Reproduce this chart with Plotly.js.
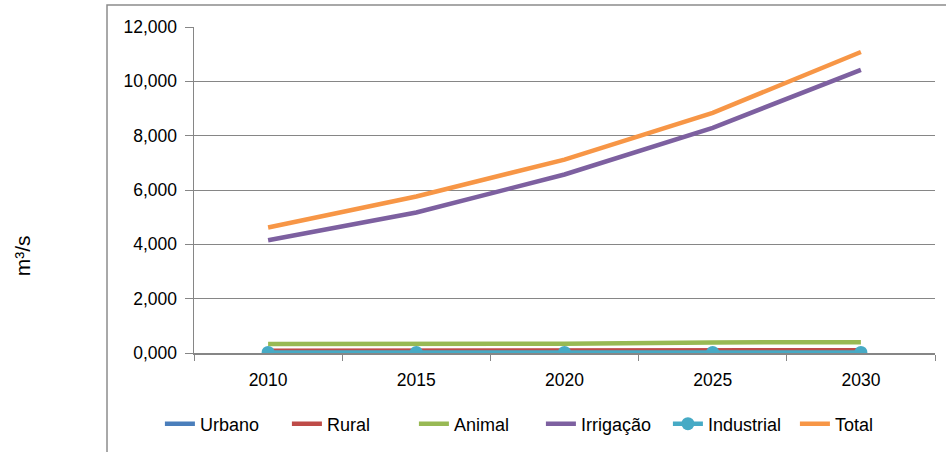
<!DOCTYPE html>
<html>
<head>
<meta charset="utf-8">
<script src="https://cdn.plot.ly/plotly-3.0.1.min.js"></script>
<style>html,body{margin:0;padding:0;background:#fff;}#chart{width:946px;height:452px;}</style>
</head>
<body>
<div id="chart"></div>
<script>
const years = ['2010', '2015', '2020', '2025', '2030'];
const urbano = [0.04, 0.04, 0.05, 0.05, 0.05];
const rural = [0.08, 0.09, 0.09, 0.10, 0.10];
const animal = [0.33, 0.33, 0.34, 0.39, 0.40];
const irrigacao = [4.15, 5.17, 6.57, 8.29, 10.42];
const industrial = [0.02, 0.02, 0.02, 0.02, 0.02];
const total = [4.62, 5.76, 7.12, 8.84, 11.08];
const yTitle = 'm³/s';

const names = ['Urbano', 'Rural', 'Animal', 'Irrigação', 'Industrial', 'Total'];
const series = [urbano, rural, animal, irrigacao, industrial, total];
const colors = ['#4A7EBB', '#BE4B48', '#98B954', '#7D60A0', '#46AAC5', '#F79646'];

const font = 'Liberation Sans, Arial, sans-serif';
const traces = series.map((s, i) => ({
  x: years,
  y: s,
  name: names[i],
  type: 'scatter',
  mode: names[i] === 'Industrial' ? 'lines+markers' : 'lines',
  line: {color: colors[i], width: 4.5},
  marker: {color: colors[i], size: 13, symbol: 'circle'},
  cliponaxis: true
}));

const layout = {
  width: 946,
  height: 452,
  margin: {l: 194, r: 11, t: 27, b: 98},
  paper_bgcolor: '#ffffff',
  plot_bgcolor: '#ffffff',
  separators: ',.',
  font: {family: font, size: 17, color: '#000000'},
  showlegend: true,
  legend: {
    orientation: 'h',
    x: -0.046, xanchor: 'left',
    y: -0.214, yanchor: 'middle',
    font: {family: font, size: 18, color: '#000'},
    itemwidth: 30,
    entrywidth: 82,
    entrywidthmode: 'pixels',
    tracegroupgap: 0
  },
  xaxis: {
    type: 'category',
    range: [-0.5, 4.5],
    showline: true,
    linecolor: '#868686',
    linewidth: 1.5,
    ticks: 'outside',
    tickson: 'boundaries',
    ticklen: 6,
    tickcolor: '#868686',
    showgrid: false,
    zeroline: false,
    ticklabelstandoff: 10,
    tickfont: {family: font, size: 17.5, color: '#000'}
  },
  yaxis: {
    range: [0, 12],
    dtick: 2,
    tick0: 0,
    tickformat: '.3f',
    showline: true,
    linecolor: '#868686',
    linewidth: 1.5,
    ticks: 'outside',
    ticklen: 8,
    tickcolor: '#868686',
    showgrid: true,
    gridcolor: '#868686',
    gridwidth: 1,
    zeroline: false,
    ticklabelstandoff: 4,
    tickfont: {family: font, size: 17.5, color: '#000'}
  },
  shapes: [{
    type: 'rect', xref: 'paper', yref: 'paper',
    x0: -0.1174, x1: 1.2, y0: -0.6, y1: 1.0673,
    line: {color: '#8c8c8c', width: 1.5}, fillcolor: 'rgba(0,0,0,0)', layer: 'below'
  }],
  annotations: [{
    text: yTitle, xref: 'paper', yref: 'paper',
    x: -0.232, y: 0.297, xanchor: 'center', yanchor: 'middle',
    textangle: -90, showarrow: false,
    font: {family: font, size: 21, color: '#000'}
  }]
};

Plotly.newPlot('chart', traces, layout, {displayModeBar: false, staticPlot: true});
</script>
</body>
</html>
